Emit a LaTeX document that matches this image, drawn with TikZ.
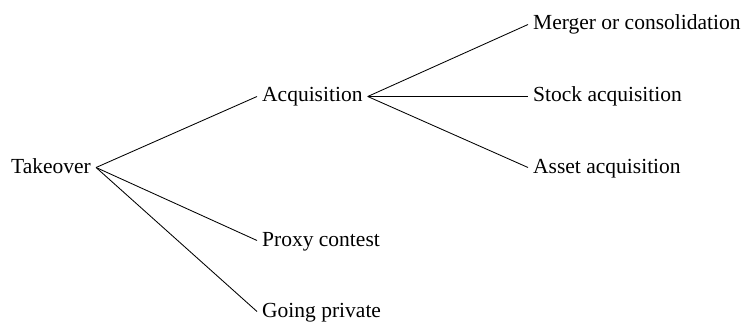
\documentclass[tikz,border=0pt]{standalone}
\usepackage{fontspec}
\setmainfont{Liberation Serif}
\begin{document}
\begin{tikzpicture}[x=1pt,y=1pt,
  lbl/.style={anchor=base west,inner xsep=5pt,inner ysep=0pt,text height=11pt,text depth=0pt,font=\fontsize{21.5}{25}\selectfont},
  conn/.style={line width=0.85pt,black}]
\useasboundingbox (0,0) rectangle (748,322);
\node[lbl] (tk) at (6,149) {Takeover};
\node[lbl] (acq) at (257,220) {Acquisition};
\node[lbl] (proxy) at (257,76) {Proxy contest};
\node[lbl] (going) at (257,5) {Going private};
\node[lbl] (merger) at (528,292) {Merger or consolidation};
\node[lbl] (stock) at (528,220) {Stock acquisition};
\node[lbl] (asset) at (528,149) {Asset acquisition};
\draw[conn] (tk.east) -- (acq.west);
\draw[conn] (tk.east) -- (proxy.west);
\draw[conn] (tk.east) -- (going.west);
\draw[conn] (acq.east) -- (merger.west);
\draw[conn] (acq.east) -- (stock.west);
\draw[conn] (acq.east) -- (asset.west);
\end{tikzpicture}
\end{document}
